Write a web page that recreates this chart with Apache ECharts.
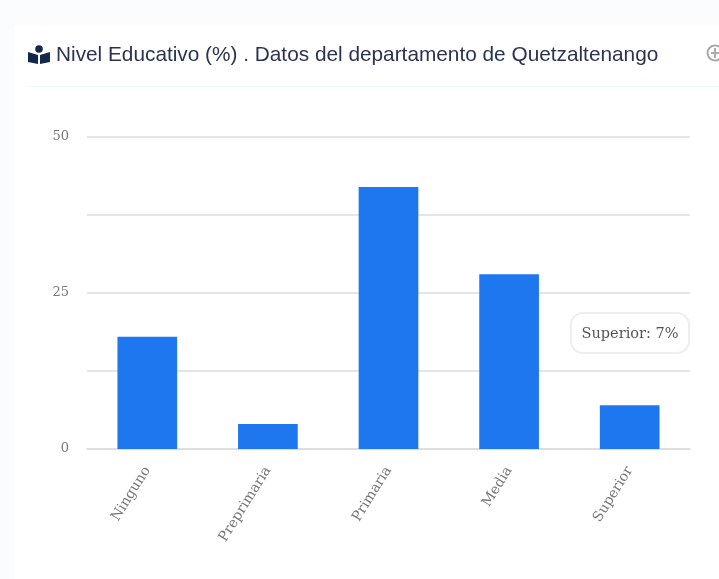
<!DOCTYPE html>
<html>
<head>
<meta charset="utf-8">
<style>
  html, body { margin: 0; padding: 0; background: #fbfcfe; overflow: hidden; }
  #chart { width: 719px; height: 579px; }
</style>
<script src="https://cdn.jsdelivr.net/npm/echarts@6/dist/echarts.min.js"></script>
</head>
<body>
<div id="chart"></div>
<script>
const categories = ['Ninguno', 'Preprimaria', 'Primaria', 'Media', 'Superior']
const values = [18, 4, 42, 28, 7]
const shownTicks = [0, 25, 50]
const titleText = 'Nivel Educativo (%) . Datos del departamento de Quetzaltenango'

const serif = '"DejaVu Serif", "Liberation Serif", serif'
const chart = echarts.init(document.getElementById('chart'), null, { renderer: 'canvas' })

chart.setOption({
  animation: false,
  backgroundColor: '#fbfcfe',
  title: {
    text: titleText,
    left: 56,
    top: 45,
    padding: 0,
    textStyle: {
      fontFamily: '"Liberation Sans", Arial, sans-serif',
      fontSize: 20.8,
      fontWeight: 'normal',
      color: '#2b3350',
    },
  },
  graphic: [
    // card behind the chart
    { type: 'rect', z: -10, shape: { x: 14, y: 26, width: 705, height: 553 }, style: { fill: '#fff' } },
    { type: 'rect', z: -9, shape: { x: 28, y: 86, width: 691, height: 1 }, style: { fill: '#f1f4f9' } },
    // book reader icon
    { type: 'circle', shape: { cx: 39, cy: 49, r: 3.8 }, style: { fill: '#14284b' } },
    { type: 'polygon', shape: { points: [[28, 52], [38, 55], [38, 64], [28, 62]] }, style: { fill: '#14284b' } },
    { type: 'polygon', shape: { points: [[50, 52], [40, 55], [40, 64], [50, 62]] }, style: { fill: '#14284b' } },
    // zoom icon cut by the edge
    { type: 'circle', shape: { cx: 715, cy: 53, r: 7.5 }, style: { fill: 'none', stroke: '#a9a9a9', lineWidth: 2 } },
    { type: 'rect', shape: { x: 711, y: 52, width: 8, height: 2 }, style: { fill: '#b5a9a3' } },
    { type: 'rect', shape: { x: 714, y: 48, width: 2, height: 10 }, style: { fill: '#b5a9a3' } },
  ],
  grid: { left: 87, right: 29, top: 137, bottom: 130 },
  tooltip: {
    trigger: 'item',
    alwaysShowContent: true,
    transitionDuration: 0,
    backgroundColor: '#fff',
    borderColor: '#eeeeee',
    borderWidth: 2,
    padding: [10, 0],
    extraCssText: 'border-radius:13px;box-shadow:none;width:116px;height:18px;line-height:18px;text-align:center;white-space:nowrap;',
    textStyle: { fontFamily: serif, fontSize: 14.5, color: '#555' },
    position: () => [570, 312],
    formatter: (p) => p.name + ': ' + p.value + '%',
  },
  xAxis: {
    type: 'category',
    data: categories,
    axisLine: { lineStyle: { color: '#dcdcdc', width: 1.5 } },
    axisTick: { show: false },
    axisLabel: {
      rotate: 58,
      interval: 0,
      margin: 19,
      fontFamily: serif,
      fontSize: 14,
      color: '#777',
    },
  },
  yAxis: {
    type: 'value',
    min: 0,
    max: 50,
    interval: 12.5,
    axisLine: { show: false },
    axisTick: { show: false },
    splitLine: { lineStyle: { color: '#dcdcdc', width: 1.5 } },
    axisLabel: {
      margin: 18,
      padding: [3, 0, 0, 0],
      fontFamily: serif,
      fontSize: 13,
      color: '#777',
      formatter: (v) => (shownTicks.includes(v) ? String(v) : ''),
    },
  },
  series: [
    {
      type: 'bar',
      data: values,
      barWidth: '49.5%',
      itemStyle: { color: '#1f77f0' },
    },
  ],
})

chart.dispatchAction({ type: 'showTip', seriesIndex: 0, dataIndex: 4 })
</script>
</body>
</html>
